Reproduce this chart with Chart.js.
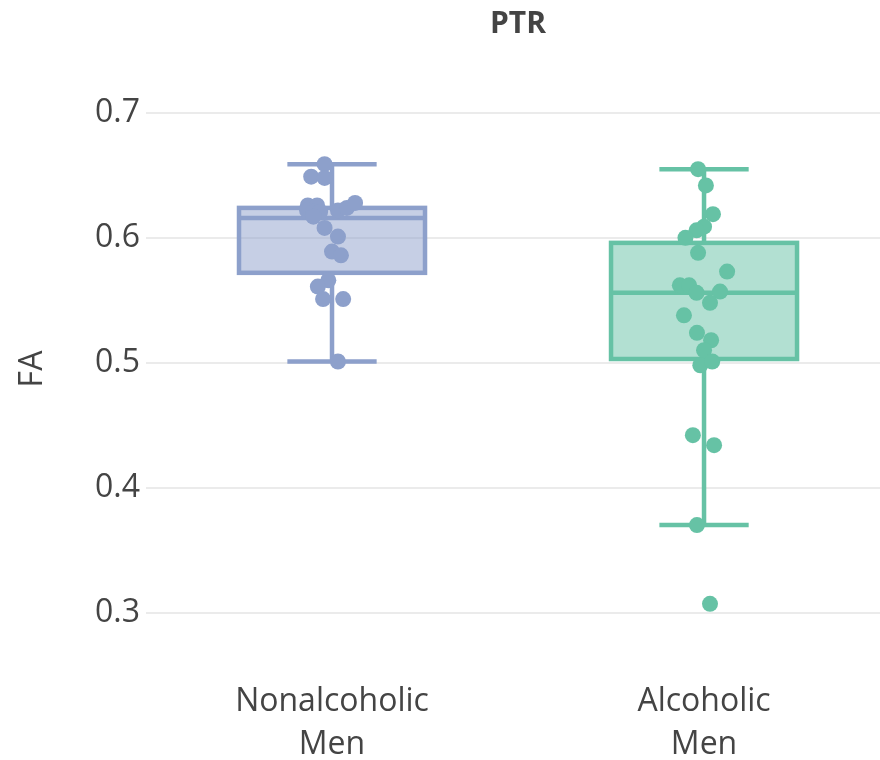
<!DOCTYPE html>
<html>
<head>
<meta charset="utf-8">
<script src="https://cdn.jsdelivr.net/npm/chart.js@4/dist/chart.umd.min.js"></script>
<style>
  body { margin: 0; background: #fff; }
  #grafica { display: block; }
</style>
</head>
<body>
<canvas id="grafica" width="880" height="760"></canvas>
<script>
// categorias y estadisticas de cada caja
const titulo = "PTR";
const categorias = [["Nonalcoholic", "Men"], ["Alcoholic", "Men"]];
const colores = ["#8da0cb", "#66c2a5"];
const rellenos = ["rgba(141,160,203,0.5)", "rgba(102,194,165,0.5)"];
const bigoteInf = [0.501, 0.370];
const q1 = [0.572, 0.503];
const mediana = [0.616, 0.556];
const q3 = [0.624, 0.596];
const bigoteSup = [0.659, 0.655];
const ticksY = [0.3, 0.4, 0.5, 0.6, 0.7];

// puntos individuales (valor y desplazamiento horizontal del jitter)
const faNoAlcoholicos = [0.659, 0.649, 0.648, 0.626, 0.626, 0.622, 0.621, 0.621, 0.622, 0.624, 0.628,
  0.617, 0.608, 0.601, 0.589, 0.586, 0.566, 0.561, 0.551, 0.551, 0.501];
const jitterNoAlcoholicos = [-0.02, -0.056, -0.02, -0.065, -0.04, -0.067, -0.05, -0.032, 0.016, 0.04, 0.062,
  -0.05, -0.02, 0.016, 0, 0.024, -0.01, -0.038, -0.024, 0.03, 0.016];
const faAlcoholicos = [0.655, 0.642, 0.619, 0.609, 0.606, 0.600, 0.588, 0.573, 0.562, 0.562, 0.556,
  0.557, 0.548, 0.538, 0.524, 0.518, 0.510, 0.498, 0.501, 0.442, 0.434, 0.370, 0.307];
const jitterAlcoholicos = [-0.016, 0.005, 0.024, 0, -0.02, -0.05, -0.016, 0.062, -0.065, -0.04, -0.02,
  0.043, 0.016, -0.054, -0.019, 0.019, 0, -0.01, 0.022, -0.03, 0.027, -0.019, 0.016];

const fuente = "'Open Sans', sans-serif";

function puntos(valores, jitter, i) {
  return valores.map((v, k) => ({ x: i + jitter[k], y: v }));
}

// dibuja cajas y bigotes usando las escalas del grafico
const cajas = {
  id: "cajas",
  beforeDatasetsDraw(chart) {
    const ctx = chart.ctx;
    const sx = chart.scales.x;
    const sy = chart.scales.y;
    ctx.save();
    ctx.lineWidth = 4.5;
    categorias.forEach((c, i) => {
      const izq = sx.getPixelForValue(i - 0.25);
      const der = sx.getPixelForValue(i + 0.25);
      const cIzq = sx.getPixelForValue(i - 0.12);
      const cDer = sx.getPixelForValue(i + 0.12);
      const centro = sx.getPixelForValue(i);
      const yQ1 = sy.getPixelForValue(q1[i]);
      const yQ3 = sy.getPixelForValue(q3[i]);
      const yMed = sy.getPixelForValue(mediana[i]);
      const yMin = sy.getPixelForValue(bigoteInf[i]);
      const yMax = sy.getPixelForValue(bigoteSup[i]);
      ctx.strokeStyle = colores[i];
      ctx.fillStyle = rellenos[i];
      ctx.fillRect(izq, yQ3, der - izq, yQ1 - yQ3);
      ctx.strokeRect(izq, yQ3, der - izq, yQ1 - yQ3);
      ctx.beginPath();
      ctx.moveTo(izq, yMed); ctx.lineTo(der, yMed);
      ctx.moveTo(centro, yQ3); ctx.lineTo(centro, yMax);
      ctx.moveTo(cIzq, yMax); ctx.lineTo(cDer, yMax);
      ctx.moveTo(centro, yQ1); ctx.lineTo(centro, yMin);
      ctx.moveTo(cIzq, yMin); ctx.lineTo(cDer, yMin);
      ctx.stroke();
    });
    ctx.restore();
  },
  // titulo centrado sobre la zona de las cajas
  afterDraw(chart) {
    const ctx = chart.ctx;
    const sx = chart.scales.x;
    ctx.save();
    ctx.font = "bold 30px " + fuente;
    ctx.fillStyle = "#444";
    ctx.textAlign = "center";
    ctx.textBaseline = "middle";
    ctx.fillText(titulo, sx.getPixelForValue(0.5), 24);
    ctx.restore();
  }
};

const ctx = document.getElementById("grafica").getContext("2d");
const grafica = new Chart(ctx, {
  type: "scatter",
  data: {
    datasets: [
      {
        label: "Nonalcoholic Men",
        data: puntos(faNoAlcoholicos, jitterNoAlcoholicos, 0),
        backgroundColor: colores[0],
        borderWidth: 0,
        pointRadius: 8,
      },
      {
        label: "Alcoholic Men",
        data: puntos(faAlcoholicos, jitterAlcoholicos, 1),
        backgroundColor: colores[1],
        borderWidth: 0,
        pointRadius: 8,
      },
    ],
  },
  options: {
    responsive: false,
    animation: false,
    events: [],
    layout: { padding: { top: 88 }, autoPadding: false },
    plugins: {
      legend: { display: false },
      tooltip: { enabled: false },
      title: { display: false },
    },
    scales: {
      x: {
        type: "linear",
        min: -0.5,
        max: 1.473,
        grid: { display: false },
        border: { display: false },
        afterBuildTicks: (axis) => { axis.ticks = [{ value: 0 }, { value: 1 }]; },
        afterFit: (axis) => {
          axis.height = 110;
          axis.paddingLeft = 0;
          axis.paddingRight = 0;
        },
        ticks: {
          color: "#444",
          padding: 22,
          maxRotation: 0,
          font: { family: fuente, size: 32, lineHeight: 1.344 },
          callback: (v) => categorias[v] || "",
        },
      },
      y: {
        min: 0.27,
        max: 0.72,
        grid: { color: "#ebebeb", lineWidth: 2, drawTicks: false },
        border: { display: false },
        afterBuildTicks: (axis) => { axis.ticks = ticksY.map((v) => ({ value: v })); },
        afterFit: (axis) => { axis.width = 146; },
        ticks: {
          color: "#444",
          padding: 6,
          font: { family: fuente, size: 32 },
          callback: (v) => v.toFixed(1),
        },
        title: {
          display: true,
          text: "FA",
          color: "#444",
          font: { family: fuente, size: 32 },
          padding: { top: 14, bottom: 0 },
        },
      },
    },
  },
  plugins: [cajas],
});
</script>
</body>
</html>
